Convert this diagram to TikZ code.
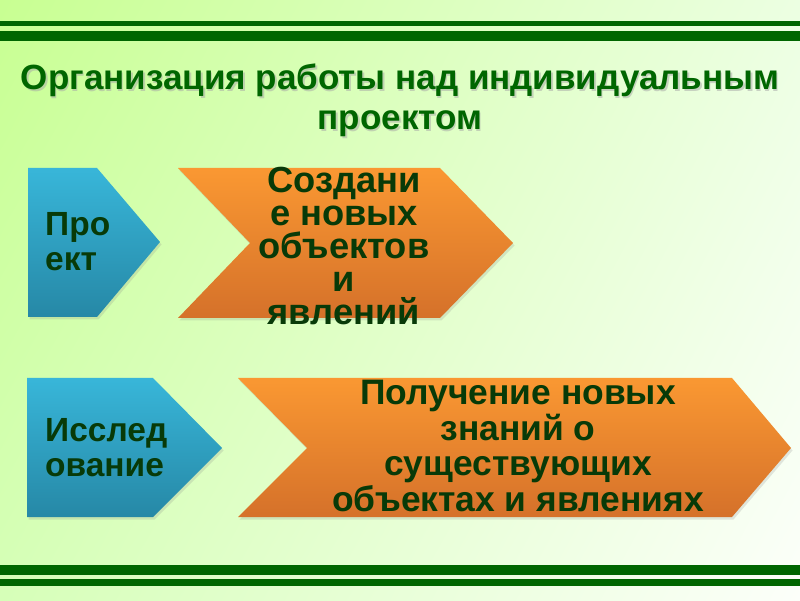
\documentclass[tikz,border=0pt]{standalone}
\usepackage{fontspec}
\setmainfont{Liberation Sans}
\usetikzlibrary{shadows,shadings}
\definecolor{SlideGreen}{RGB}{0, 102, 0}
\definecolor{TextGreen}{RGB}{8, 58, 8}
\definecolor{BlueTop}{RGB}{56, 182, 217}
\definecolor{BlueBottom}{RGB}{38, 136, 166}
\definecolor{OrangeTop}{RGB}{250, 152, 50}
\definecolor{OrangeBottom}{RGB}{213, 113, 42}
\definecolor{BgTopLeft}{RGB}{200, 255, 146}
\definecolor{BgTopRight}{RGB}{236, 255, 226}
\definecolor{BgBottomLeft}{RGB}{214, 255, 184}
\definecolor{BgBottomRight}{RGB}{252, 255, 250}

\begin{document}
\begin{tikzpicture}[
    x=1pt, y=1pt,
    stripe/.style={fill=SlideGreen},
    bluebox/.style={top color=BlueTop, bottom color=BlueBottom, drop shadow={opacity=0.2, shadow xshift=1.5pt, shadow yshift=-2.5pt}},
    orangebox/.style={top color=OrangeTop, bottom color=OrangeBottom, drop shadow={opacity=0.2, shadow xshift=1.5pt, shadow yshift=-2.5pt}},
    bluetext/.style={text=TextGreen, font=\fontsize{33.5}{35}\selectfont\bfseries, align=left, inner sep=0pt, anchor=west},
    orangetext/.style={text=TextGreen, font=\fontsize{35.4}{35.5}\selectfont\bfseries, align=center, inner sep=0pt},
    heading/.style={font=\fontsize{35}{40}\selectfont\bfseries, align=center, inner sep=0pt}
]
\useasboundingbox (0,0) rectangle (800,600);

% === BACKGROUND ===
\shade[upper left=BgTopLeft, upper right=BgTopRight, lower left=BgBottomLeft, lower right=BgBottomRight] (0,0) rectangle (800,600);
\fill[stripe] (0,574) rectangle (800,579);
\fill[stripe] (0,559) rectangle (800,569);
\fill[stripe] (0,25) rectangle (800,35);
\fill[stripe] (0,14) rectangle (800,21);

% === TITLE ===
\node[heading, text=black!35, opacity=0.5] (titleshadow) at (401.5,498) {Организация работы над индивидуальным\\ проектом};
\node[heading, text=SlideGreen] (title) at (400,499.5) {Организация работы над индивидуальным\\ проектом};

% === PROJECT ===
\path[bluebox] (28,432) -- (97,432) -- (160,358) -- (97,283) -- (28,283) -- cycle;
\path[orangebox] (178,432) -- (440,432) -- (513,357) -- (440,282) -- (178,282) -- (250,357) -- cycle;
\node[bluetext] (project) at (45,358) {Про\\ект};
\node[orangetext, font=\fontsize{36.3}{33}\selectfont\bfseries] (creation) at (344,354) {Создани\\е новых\\объектов\\и\\явлений};

% === RESEARCH ===
\path[bluebox] (27,222) -- (153,222) -- (222,152) -- (153,83) -- (27,83) -- cycle;
\path[orangebox] (238,222) -- (732,222) -- (791,152) -- (732,83) -- (238,83) -- (307,152) -- cycle;
\node[bluetext] (research) at (45,152) {Исслед\\ование};
\node[orangetext] (knowledge) at (518,154) {Получение новых\\знаний о\\существующих\\объектах и явлениях};

\end{tikzpicture}
\end{document}
